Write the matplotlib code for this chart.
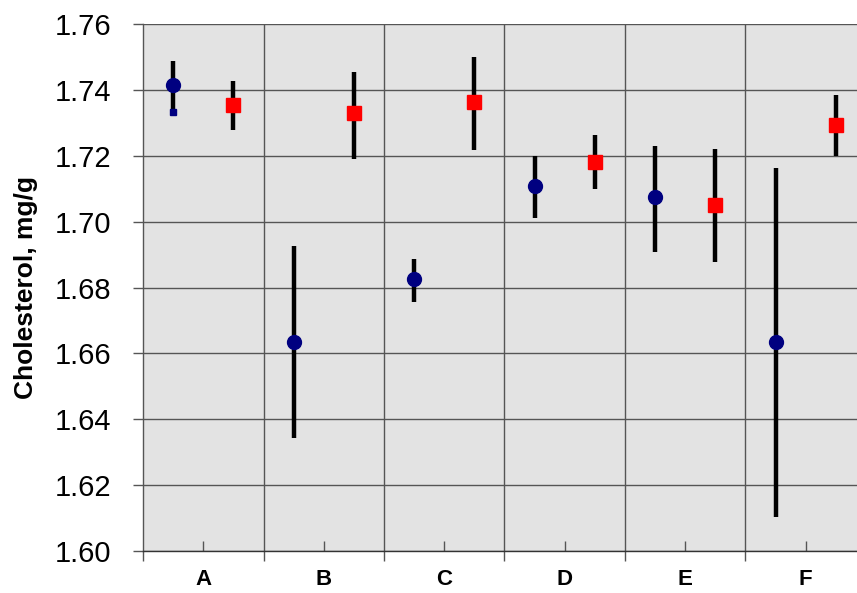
import matplotlib
matplotlib.use("Agg")
import matplotlib.pyplot as plt
import numpy as np

plt.rcParams['font.family'] = ['Liberation Sans', 'DejaVu Sans']

categories = ["A", "B", "C", "D", "E", "F"]
blue_mean = [1.7415, 1.6635, 1.6826, 1.7108, 1.7075, 1.6635]
blue_low = [1.7333, 1.6344, 1.6756, 1.7011, 1.6908, 1.6104]
blue_high = [1.7488, 1.6926, 1.6887, 1.7199, 1.7230, 1.7163]
red_mean = [1.7354, 1.7330, 1.7363, 1.7181, 1.7051, 1.7293]
red_low = [1.7278, 1.7190, 1.7218, 1.7099, 1.6878, 1.7199]
red_high = [1.7427, 1.7454, 1.7500, 1.7263, 1.7221, 1.7385]
yticks = [1.60, 1.62, 1.64, 1.66, 1.68, 1.70, 1.72, 1.74, 1.76]

fig = plt.figure(figsize=(8.57, 5.93), dpi=100)
ax = fig.add_axes([143/857, 1-551/593, 714/857, 527/593])
ax.set_facecolor("#E3E3E3")

n = len(categories)
centers = np.arange(n) + 0.5
xb = centers - 0.25
xr = centers + 0.25

bm = np.array(blue_mean); rm = np.array(red_mean)
ax.errorbar(xb, bm, yerr=[bm - np.array(blue_low), np.array(blue_high) - bm],
            fmt='o', color='#000080', ms=10, ecolor='black', elinewidth=3.2,
            capsize=0, zorder=3)
ax.plot([xb[0]], [blue_low[0]], 's', color='#000080', ms=4, zorder=4)
ax.errorbar(xr, rm, yerr=[rm - np.array(red_low), np.array(red_high) - rm],
            fmt='s', color='#FF0000', ms=10, ecolor='black', elinewidth=3.2,
            capsize=0, zorder=3)

ax.set_yticks(yticks)
ax.set_yticklabels([f"{v:.2f}" for v in yticks], fontsize=21)
ax.set_xticks(centers)
ax.set_xticklabels(categories, fontsize=16, fontweight='bold')
ax.set_xticks(np.arange(n + 1), minor=True)
ax.set_ylim(1.60, 1.76)
ax.set_xlim(0, 714/120.5)

for y in yticks:
    ax.axhline(y, color='#555555', lw=1, zorder=1)
for x in range(1, n):
    ax.axvline(x, color='#555555', lw=1, zorder=1)

ax.tick_params(axis='y', direction='out', length=7, width=1, color='#555555', pad=16)
ax.tick_params(axis='x', which='major', direction='in', length=7, width=1, color='#555555', pad=13)
ax.tick_params(axis='x', which='minor', direction='out', length=7, width=1, color='#555555')

for s in ['top', 'right']:
    ax.spines[s].set_visible(False)
ax.spines['left'].set_color('#555555')
ax.spines['left'].set_linewidth(1)
ax.spines['bottom'].set_color('#333333')
ax.spines['bottom'].set_linewidth(1)

ax.set_ylabel("Cholesterol, mg/g", fontsize=19, fontweight='bold', labelpad=12)

fig.savefig("out.png", dpi=100)
